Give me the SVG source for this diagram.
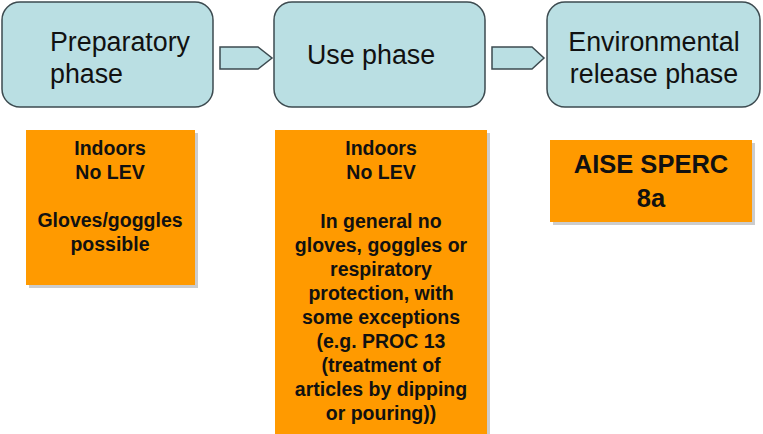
<svg xmlns="http://www.w3.org/2000/svg" width="763" height="434" viewBox="0 0 763 434">
<defs>
<style>
.phase{fill:#badfe3;stroke:#3d4b50;stroke-width:1.5}
.arr{fill:#badfe3;stroke:#3d4b50;stroke-width:1.5}
.pt{font-family:"Liberation Sans",Arial,sans-serif;font-size:26.8px;fill:#111}
.ob{fill:#ff9a00}
.sh{fill:#999;opacity:0.5}
.ot{font-family:"Liberation Sans",Arial,sans-serif;font-size:19.5px;font-weight:bold;fill:#111;text-anchor:middle}
.big{font-size:25.5px}
</style>
</defs>
<g id="prep"><rect class="phase" x="2" y="2" width="211" height="105" rx="18"/>
<text class="pt" x="50" y="51">Preparatory</text><text class="pt" x="50" y="83">phase</text></g>
<g id="use"><rect class="phase" x="274" y="2" width="211" height="105" rx="18"/>
<text class="pt" x="307" y="64">Use phase</text></g>
<g id="env"><rect class="phase" x="547" y="2" width="213" height="105" rx="18"/>
<text class="pt" x="654" y="51" text-anchor="middle">Environmental</text><text class="pt" x="654" y="83" text-anchor="middle">release phase</text></g>
<g id="connectors">
<polygon class="arr" points="220,47 258,47 272,58 258,69 220,69"/>
<polygon class="arr" points="492,47 532,47 544,58 532,69 492,69"/>
</g>
<g id="box1"><rect class="sh" x="29" y="133" width="169" height="155"/><rect class="ob" x="26" y="130" width="169" height="155"/>
<text class="ot" x="110" y="155">Indoors</text><text class="ot" x="110" y="179">No LEV</text>
<text class="ot" x="110" y="227">Gloves/goggles</text><text class="ot" x="110" y="251">possible</text></g>
<g id="box2"><rect class="sh" x="278" y="133" width="212" height="301"/><rect class="ob" x="275" y="130" width="212" height="304"/>
<text class="ot" x="381" y="155">Indoors</text><text class="ot" x="381" y="179">No LEV</text>
<text class="ot" x="381" y="228">In general no</text><text class="ot" x="381" y="252">gloves, goggles or</text>
<text class="ot" x="381" y="276">respiratory</text><text class="ot" x="381" y="300">protection, with</text>
<text class="ot" x="381" y="324">some exceptions</text><text class="ot" x="381" y="348">(e.g. PROC 13</text>
<text class="ot" x="381" y="372">(treatment of</text><text class="ot" x="381" y="396">articles by dipping</text>
<text class="ot" x="381" y="420">or pouring))</text></g>
<g id="box3"><rect class="sh" x="553" y="143" width="202" height="82"/><rect class="ob" x="550" y="140" width="202" height="82"/>
<text class="ot big" x="651" y="173">AISE SPERC</text><text class="ot big" x="651" y="207">8a</text></g>
</svg>
